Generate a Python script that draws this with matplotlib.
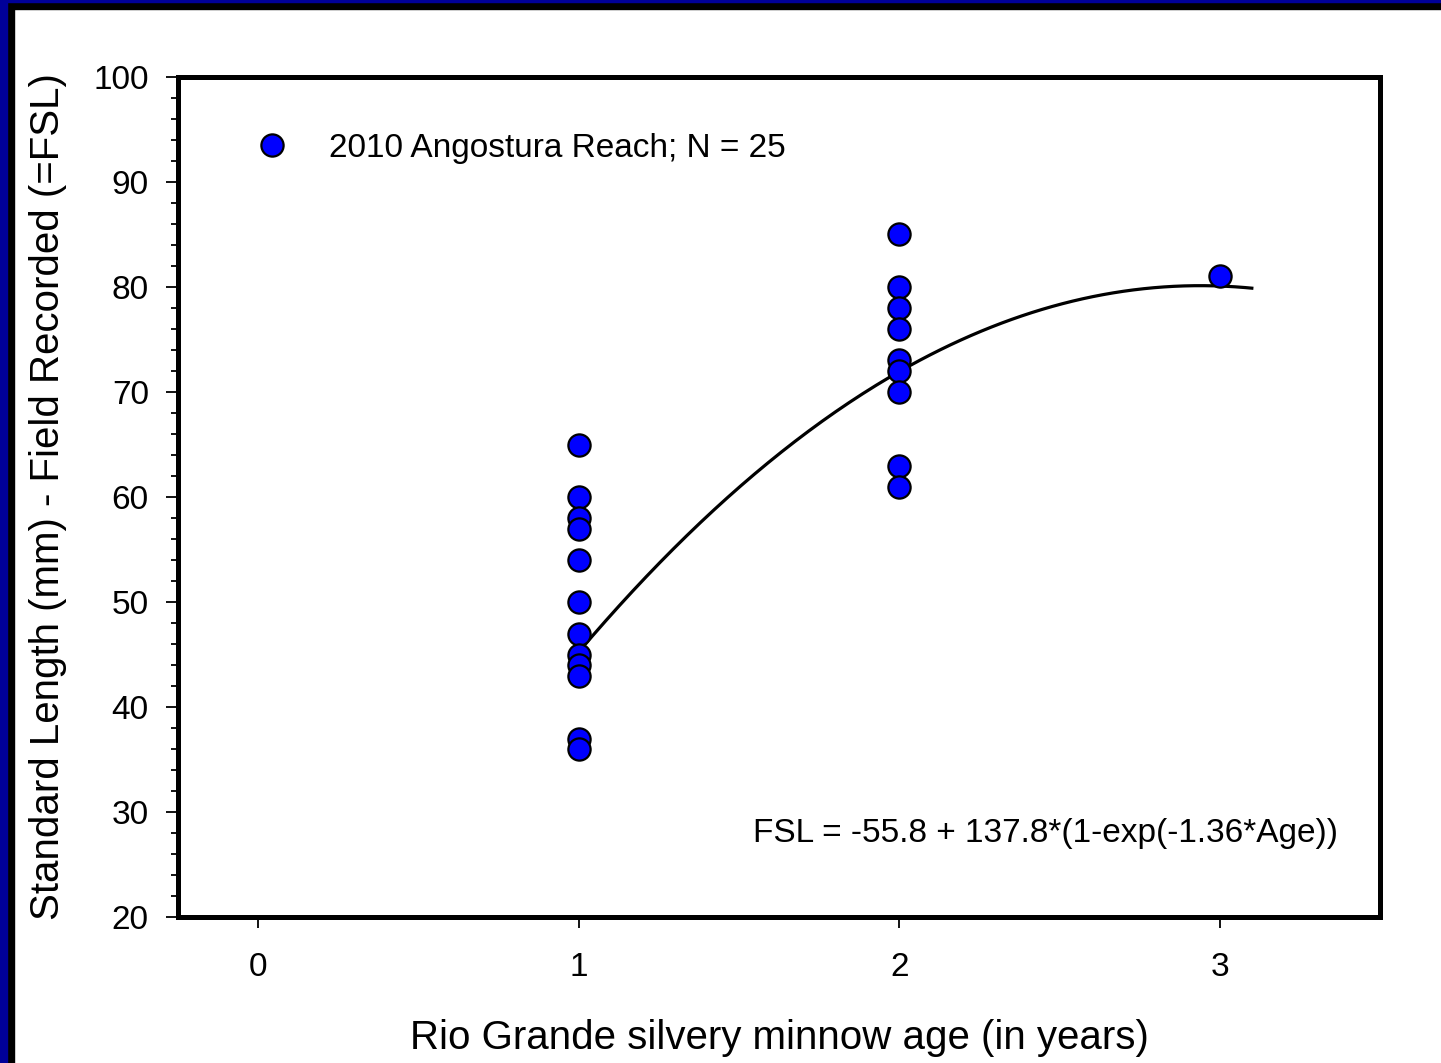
import numpy as np
import matplotlib
matplotlib.use('Agg')
import matplotlib.pyplot as plt
from matplotlib.patches import Rectangle
from matplotlib.ticker import MultipleLocator

plt.rcParams['font.family'] = ['Liberation Sans', 'DejaVu Sans']

# data
age_1 = [1] * 12
fsl_1 = [65, 60, 58, 57, 54, 50, 47, 45, 44, 43, 37, 36]
age_2 = [2] * 9
fsl_2 = [85, 80, 78, 76, 73, 72, 70, 63, 61]
age_3 = [3]
fsl_3 = [81]

# fitted curve as it appears in the plot
curve_age = [1.0, 1.5, 2.0, 2.5, 3.0, 3.1]
curve_fsl = [45.2, 61.0, 71.9, 78.3, 80.1, 79.9]

legend_label = '2010 Angostura Reach; N = 25'
equation = 'FSL = -55.8 + 137.8*(1-exp(-1.36*Age))'

ages = age_1 + age_2 + age_3
fsl = fsl_1 + fsl_2 + fsl_3

fig = plt.figure(figsize=(14.41, 10.63), dpi=100)
ax = fig.add_axes([0.1235, 0.1373, 0.8342, 0.7903])

# frame around the slide
fig.patches.append(Rectangle((0, 0), 14 / 1441, 1, transform=fig.transFigure, color='black', zorder=0))
fig.patches.append(Rectangle((0, 1 - 9 / 1063), 1, 9 / 1063, transform=fig.transFigure, color='black', zorder=0))
fig.patches.append(Rectangle((0, 0), 7 / 1441, 1, transform=fig.transFigure, color='#000099', zorder=1))
fig.patches.append(Rectangle((0, 1 - 2 / 1063), 1, 2 / 1063, transform=fig.transFigure, color='#000099', zorder=1))

# curve
coef = np.polyfit(curve_age, curve_fsl, 2)
xx = np.linspace(curve_age[0], curve_age[-1], 200)
ax.plot(xx, np.polyval(coef, xx), color='black', lw=2.3, zorder=3)

ax.plot(ages, fsl, 'o', ms=16, mfc='#0000FF', mec='black', mew=1.6,
        label=legend_label, zorder=4)

ax.set_xlim(-0.25, 3.5)
ax.set_ylim(20, 100)
ax.set_xticks([0, 1, 2, 3])
ax.yaxis.set_major_locator(MultipleLocator(10))
ax.yaxis.set_minor_locator(MultipleLocator(2))

for s in ax.spines.values():
    s.set_linewidth(3.6)

ax.tick_params(axis='y', which='major', direction='out', length=9, width=1.3,
               labelsize=24, pad=12, right=False)
ax.tick_params(axis='y', which='minor', direction='out', length=5, width=1.3, right=False)
ax.tick_params(axis='x', which='major', direction='out', length=8, width=1.3,
               labelsize=24, pad=17, top=False)

ax.set_xlabel('Rio Grande silvery minnow age (in years)', fontsize=29, labelpad=26)
ax.set_ylabel('Standard Length (mm) - Field Recorded (=FSL)', fontsize=29, labelpad=19)

ax.legend(loc='upper left', frameon=False, fontsize=24, handletextpad=0.71,
          bbox_to_anchor=(0.039, 0.949), borderaxespad=0)

ax.text(0.965, 0.10, equation, transform=ax.transAxes, ha='right', va='center', fontsize=24)

fig.savefig('out.png', dpi=100)
